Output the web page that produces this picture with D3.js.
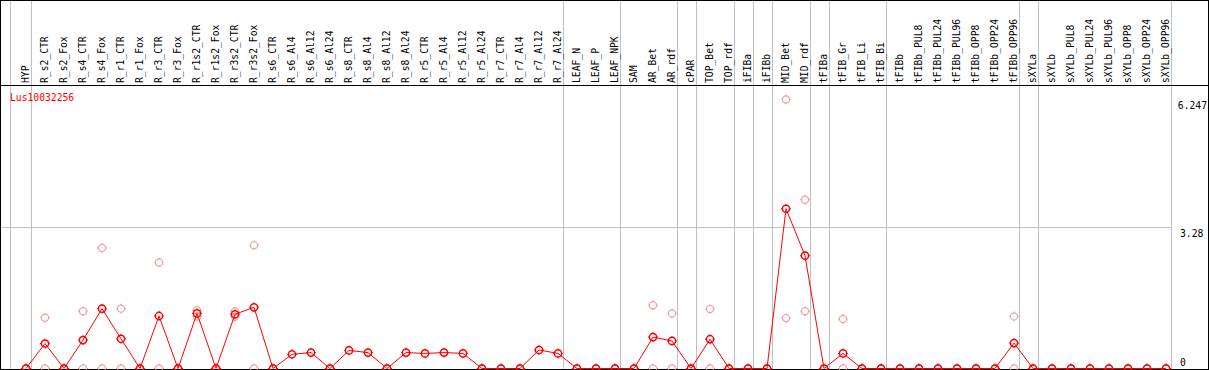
<!DOCTYPE html>
<html><head><meta charset="utf-8">
<script src="https://cdn.jsdelivr.net/npm/d3@7"></script>
<style>
html,body{margin:0;padding:0;background:#fff;}
svg{display:block;}
text{font-family:"DejaVu Sans Mono",monospace;font-size:9.7px;}
</style></head>
<body>
<script>
const categories = ["HYP","R_s2_CTR","R_s2_Fox","R_s4_CTR","R_s4_Fox","R_r1_CTR","R_r1_Fox","R_r3_CTR","R_r3_Fox","R_r1s2_CTR","R_r1s2_Fox","R_r3s2_CTR","R_r3s2_Fox","R_s6_CTR","R_s6_Al4","R_s6_Al12","R_s6_Al24","R_s8_CTR","R_s8_Al4","R_s8_Al12","R_s8_Al24","R_r5_CTR","R_r5_Al4","R_r5_Al12","R_r5_Al24","R_r7_CTR","R_r7_Al4","R_r7_Al12","R_r7_Al24","LEAF_N","LEAF_P","LEAF_NPK","SAM","AR_Bet","AR_rdf","cPAR","TOP_Bet","TOP_rdf","iFIBa","iFIBb","MID_Bet","MID_rdf","tFIBa","tFIB_Gr","tFIB_Li","tFIB_Bi","tFIBb","tFIBb_PUL8","tFIBb_PUL24","tFIBb_PUL96","tFIBb_OPP8","tFIBb_OPP24","tFIBb_OPP96","sXYLa","sXYLb","sXYLb_PUL8","sXYLb_PUL24","sXYLb_PUL96","sXYLb_OPP8","sXYLb_OPP24","sXYLb_OPP96"];

const meanValues = [0,0.58,0,0.66,1.39,0.69,0,1.22,0,1.28,0,1.26,1.42,0,0.33,0.37,0,0.42,0.37,0,0.37,0.35,0.37,0.35,0,0,0,0.43,0.35,0,0,0,0,0.73,0.64,0,0.68,0,0,0,3.71,2.62,0,0.35,0,0,0,0,0,0,0,0,0.59,0,0,0,0,0,0,0,0];

const replicateA = [0,1.18,0,1.33,2.80,1.39,0,2.46,0,1.35,0,1.33,2.86,0,null,null,0,null,null,0,null,null,null,null,0,0,0,null,null,0,0,0,0,1.47,1.28,0,1.38,0,0,0,6.247,3.92,0,1.15,0,0,0,0,0,0,0,0,1.21,0,0,0,0,0,0,0,0];
const replicateB = [0,0,0,0,0,0,0,0,0,1.21,0,1.20,0,0,null,null,0,null,null,0,null,null,null,null,0,0,0,null,null,0,0,0,0,0,0,0,0,0,0,0,1.17,1.33,0,0,0,0,0,0,0,0,0,0,0,0,0,0,0,0,0,0,0];

const groupEnds = ["HYP","R_r7_Al24","LEAF_NPK","AR_rdf","cPAR","TOP_rdf","iFIBa","iFIBb","MID_rdf","tFIBa","tFIB_Bi","tFIBb_OPP96","sXYLa","sXYLb_OPP96"];
const yTicks = [0, 3.28, 6.247];
const yTickLabels = ["0","3.28","6.247"];
const geneName = "Lus10032256";

const W = 1209, H = 370;
const svg = d3.select("body").append("svg").attr("width", W).attr("height", H);

const x = d3.scalePoint().domain(categories).range([26, 1166]);
const y = d3.scaleLinear().domain([0, 6.247]).range([368.5, 99.5]);

const px = v => Math.round(v) + 0.5;
const sepX = groupEnds.map(c => px(x(c) + 4.6));
sepX.unshift(px(x(categories[0]) - 16));
const lastSep = sepX[sepX.length - 1];

svg.append("g").selectAll("line").data(sepX).join("line")
  .attr("x1", d => d).attr("x2", d => d).attr("y1", 0).attr("y2", H)
  .attr("stroke", "#c0c0c0").attr("stroke-width", 1).attr("shape-rendering","crispEdges");

svg.append("line").attr("x1", 0).attr("x2", lastSep)
  .attr("y1", px(y(3.28))).attr("y2", px(y(3.28)))
  .attr("stroke", "#c0c0c0").attr("shape-rendering","crispEdges");

svg.append("rect").attr("x", 0.5).attr("y", 0.5).attr("width", 1208).attr("height", 369)
  .attr("fill", "none").attr("stroke", "#000").attr("shape-rendering","crispEdges");
svg.append("line").attr("x1", 0).attr("x2", 1209).attr("y1", 85.5).attr("y2", 85.5)
  .attr("stroke", "#000").attr("shape-rendering","crispEdges");

svg.append("g").selectAll("text").data(categories).join("text")
  .attr("transform", d => `translate(${x(d) + 3},83) rotate(-90)`)
  .attr("text-anchor", "start").attr("fill", "#000").text(d => d);

const yt = svg.append("g").selectAll("text").data(yTicks).join("text")
  .attr("y", d => d === 0 ? y(d) - 3 : y(d) + 9.5)
  .attr("fill", "#000").text((d, i) => yTickLabels[i]);
yt.each(function() {
  const len = this.getComputedTextLength();
  d3.select(this).attr("x", Math.min(lastSep + 8.5, 1207 - len));
});

svg.append("text").attr("x", 10).attr("y", 101).attr("fill", "#ff0000").text(geneName);

function marker(g, cx, cy, color, sw) {
  const r = 3.6;
  g.append("circle").attr("cx", cx).attr("cy", cy).attr("r", r)
    .attr("fill", "none").attr("stroke", color).attr("stroke-width", sw);
  [[0,-1],[0,1],[-1,0],[1,0]].forEach(([dx, dy]) => {
    g.append("line").attr("x1", cx + dx * r).attr("y1", cy + dy * r)
      .attr("x2", cx + dx * (r + 1.3)).attr("y2", cy + dy * (r + 1.3))
      .attr("stroke", color).attr("stroke-width", 1);
  });
}

const repG = svg.append("g");
[replicateA, replicateB].forEach(arr => {
  arr.forEach((v, i) => {
    if (v === null) return;
    marker(repG, x(categories[i]), y(v), "#f0a0a0", 1.2);
  });
});

const line = d3.line().x((d, i) => x(categories[i])).y(d => y(d));
svg.append("path").datum(meanValues).attr("d", line)
  .attr("fill", "none").attr("stroke", "#ff0000").attr("stroke-width", 1);

const meanG = svg.append("g");
meanValues.forEach((v, i) => marker(meanG, x(categories[i]), y(v), "#ff0000", 1.5));
</script>
</body></html>
